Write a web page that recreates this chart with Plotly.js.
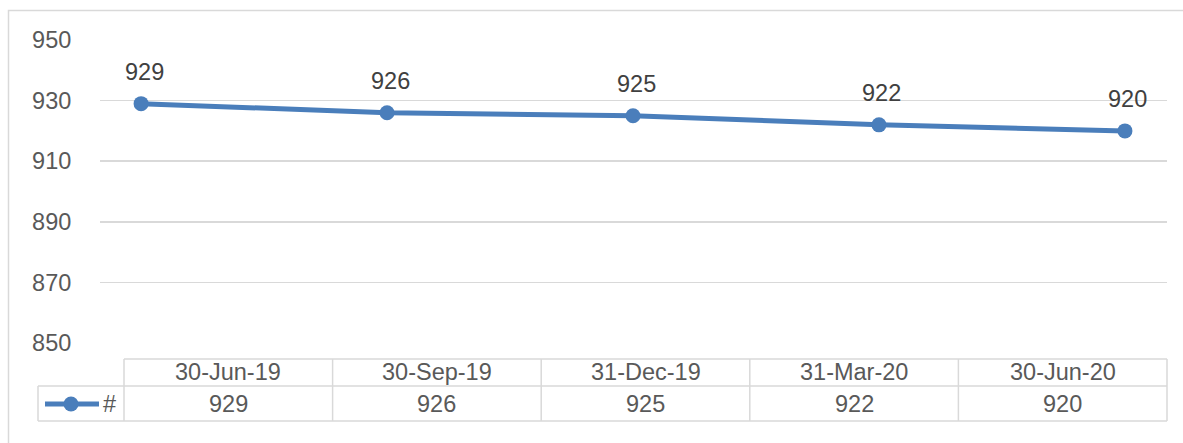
<!DOCTYPE html>
<html>
<head>
<meta charset="utf-8">
<script src="https://cdn.plot.ly/plotly-3.0.1.min.js"></script>
<style>html,body{margin:0;padding:0;background:#fff;}#chart{width:1183px;height:443px;}</style>
</head>
<body>
<div id="chart"></div>
<script>
var categories = ["30-Jun-19", "30-Sep-19", "31-Dec-19", "31-Mar-20", "30-Jun-20"];
var seriesName = "#";
var values = [929, 926, 925, 922, 920];
var yTicks = [850, 870, 890, 910, 930, 950];

var W = 1183, H = 443;
var L = 100, R = 1167, T = 40, B = 343;
function px(x) { return (x - L) / (R - L); }
function py(y) { return (B - y) / (B - T); }

var textColor = "#595959";
var gridColor = "#d9d9d9";
var lineColor = "#4a7ebb";
var fontFam = "Liberation Sans, Arial, sans-serif";
var fs = 23.5;

var idx = categories.map(function (c, i) { return i; });

var trace = {
  x: idx, y: values, type: "scatter", mode: "lines+markers",
  line: { color: lineColor, width: 5 },
  marker: { color: lineColor, size: 15 },
  cliponaxis: false, hoverinfo: "skip", showlegend: false
};

var annotations = [];
values.forEach(function (v, i) {
  annotations.push({ x: i, y: v, xref: "x", yref: "y", text: String(v), showarrow: false,
    yshift: 32, xshift: 3, font: { family: fontFam, size: fs, color: "#404040" } });
});

var shapes = [];
shapes.push({ type: "rect", xref: "paper", yref: "paper", x0: px(8.5), x1: px(1230), y0: py(10.5), y1: py(480),
  line: { color: gridColor, width: 1.5 }, fillcolor: "rgba(0,0,0,0)" });

var tLeft = 124, tRight = 1167, legLeft = 38;
var yTop = 359, yMid = 386, yBot = 421;
var colW = (tRight - tLeft) / categories.length;
var lc = { color: gridColor, width: 1.5 };
function hline(x0, x1, y) { shapes.push({ type: "line", xref: "paper", yref: "paper", x0: px(x0), x1: px(x1), y0: py(y), y1: py(y), line: lc }); }
function vline(x, y0, y1) { shapes.push({ type: "line", xref: "paper", yref: "paper", x0: px(x), x1: px(x), y0: py(y0), y1: py(y1), line: lc }); }
hline(tLeft, tRight, yTop);
hline(legLeft, tRight, yMid);
hline(legLeft, tRight, yBot);
vline(legLeft, yMid, yBot);
for (var k = 0; k <= categories.length; k++) vline(tLeft + k * colW, yTop, yBot);

categories.forEach(function (c, i) {
  var cx = tLeft + (i + 0.5) * colW;
  annotations.push({ x: px(cx), y: py(372), xref: "paper", yref: "paper", text: c, showarrow: false,
    xanchor: "center", yanchor: "middle", font: { family: fontFam, size: fs, color: textColor } });
  annotations.push({ x: px(cx), y: py(403.5), xref: "paper", yref: "paper", text: String(values[i]), showarrow: false,
    xanchor: "center", yanchor: "middle", font: { family: fontFam, size: fs, color: textColor } });
});

shapes.push({ type: "line", xref: "paper", yref: "paper", x0: px(45), x1: px(99), y0: py(404), y1: py(404),
  line: { color: lineColor, width: 5 } });
shapes.push({ type: "circle", xref: "paper", yref: "paper", x0: px(63.5), x1: px(78.5), y0: py(396.5), y1: py(411.5),
  line: { color: lineColor, width: 0 }, fillcolor: lineColor });
annotations.push({ x: px(109), y: py(403.5), xref: "paper", yref: "paper", text: seriesName, showarrow: false,
  xanchor: "center", yanchor: "middle", font: { family: fontFam, size: fs, color: textColor } });

var layout = {
  width: W, height: H,
  margin: { l: L, r: W - R, t: T, b: H - B, pad: 0 },
  paper_bgcolor: "#ffffff", plot_bgcolor: "#ffffff",
  showlegend: false,
  xaxis: { range: [-0.167, 4.171], showgrid: false, zeroline: false, showline: false,
    showticklabels: false, ticks: "", fixedrange: true },
  yaxis: { range: [850, 950], tickvals: yTicks, ticktext: yTicks.map(String),
    showgrid: true, gridcolor: gridColor, gridwidth: 1.5, zeroline: false, showline: false,
    ticks: "outside", ticklen: 23, tickcolor: "rgba(0,0,0,0)",
    tickfont: { family: fontFam, size: fs, color: textColor }, fixedrange: true },
  shapes: shapes, annotations: annotations
};

Plotly.newPlot("chart", [trace], layout, { staticPlot: true, displayModeBar: false });
</script>
</body>
</html>
